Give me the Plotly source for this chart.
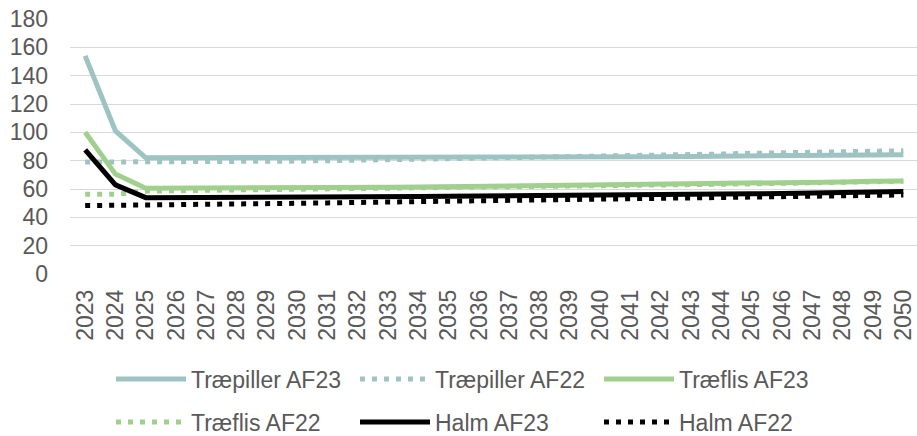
import plotly.graph_objects as go

years = [str(y) for y in range(2023, 2051)]

traepiller_af23 = [154, 101, 82, 82, 82, 82, 82, 82, 82, 82, 82, 82, 82.1, 82.2,
                   82.3, 82.4, 82.5, 82.6, 82.7, 82.8, 83.0, 83.1, 83.3, 83.4, 83.6, 83.8, 84.0, 84.2]
traepiller_af22 = [79.0, 79.0, 79.0, 79.1, 79.2, 79.3, 79.5, 79.7, 80.0, 80.3, 80.6, 80.9, 81.2, 81.5,
                   81.8, 82.1, 82.4, 82.8, 83.2, 83.7, 84.2, 84.7, 85.2, 85.6, 86.0, 86.4, 86.7, 87.0]
traeflis_af23 = [100, 70.5, 60.5, 60.5, 60.6, 60.7, 60.8, 60.9, 61.0, 61.1, 61.2, 61.4, 61.6, 61.8,
                 62.0, 62.2, 62.4, 62.6, 62.8, 63.0, 63.3, 63.6, 63.9, 64.2, 64.6, 65.0, 65.4, 65.7]
traeflis_af22 = [56.3, 56.3, 58.5, 59.0, 59.2, 59.4, 59.6, 59.8, 60.0, 60.2, 60.4, 60.6, 60.8, 61.0,
                 61.2, 61.4, 61.6, 61.9, 62.2, 62.5, 62.8, 63.2, 63.6, 64.0, 64.4, 64.8, 65.2, 65.5]
halm_af23 = [87.6, 62.9, 53.9, 53.9, 54.0, 54.1, 54.2, 54.3, 54.4, 54.5, 54.6, 54.7, 54.8, 54.9,
             55.0, 55.2, 55.4, 55.6, 55.8, 56.0, 56.2, 56.4, 56.6, 56.8, 57.1, 57.4, 57.8, 58.2]
halm_af22 = [48.3, 48.4, 48.6, 48.8, 49.0, 49.3, 49.6, 49.9, 50.2, 50.5, 50.8, 51.1, 51.4, 51.7,
             52.0, 52.3, 52.6, 52.9, 53.2, 53.5, 53.8, 54.1, 54.4, 54.7, 55.0, 55.3, 55.6, 55.8]

y_ticks = [0, 20, 40, 60, 80, 100, 120, 140, 160, 180]

TEAL = "#9DC3C2"
GREEN = "#A1D08E"
BLACK = "#000000"
DOT = "5px,7px"
FONT = "Liberation Sans, Arial, sans-serif"
FS = 23

series = [
    ("Træpiller AF23", traepiller_af23, TEAL, "solid", "legend"),
    ("Træpiller AF22", traepiller_af22, TEAL, DOT, "legend"),
    ("Træflis AF23", traeflis_af23, GREEN, "solid", "legend"),
    ("Træflis AF22", traeflis_af22, GREEN, DOT, "legend2"),
    ("Halm AF23", halm_af23, BLACK, "solid", "legend2"),
    ("Halm AF22", halm_af22, BLACK, DOT, "legend2"),
]

fig = go.Figure()
for name, vals, col, dash, leg in series:
    fig.add_trace(go.Scatter(
        x=years, y=vals, name=name, mode="lines",
        line=dict(color=col, width=5, dash=dash),
        legend=leg,
    ))

legend_common = dict(
    orientation="h", xref="container", yref="container",
    xanchor="left", yanchor="middle",
    font=dict(family=FONT, size=FS, color="#595959"),
    itemwidth=70, entrywidth=159, entrywidthmode="pixels",
    bgcolor="rgba(0,0,0,0)", traceorder="normal",
)

fig.update_layout(
    width=917, height=436,
    margin=dict(l=70, r=0, t=19, b=162, autoexpand=False),
    paper_bgcolor="white", plot_bgcolor="white",
    font=dict(family=FONT, size=FS, color="#595959"),
    legend=dict(x=111 / 917, y=1 - 379 / 436, **legend_common),
    legend2=dict(x=111 / 917, y=1 - 422 / 436, **legend_common),
    xaxis=dict(
        type="category", range=[-0.5, 27.45], tickangle=-90, automargin=False,
        showgrid=False, zeroline=False, showline=False, ticks="",
        tickfont=dict(family=FONT, size=FS, color="#595959"),
        ticklabelstandoff=10,
    ),
    yaxis=dict(
        range=[0, 180], tickvals=y_ticks, showgrid=True, automargin=False,
        gridcolor="#D9D9D9", gridwidth=1.3, zeroline=False, showline=False,
        ticks="", tickfont=dict(family=FONT, size=FS, color="#595959"),
        ticklabelstandoff=21,
    ),
)

fig.write_html(
    "out.html",
    config={"displayModeBar": False},
    post_script="document.body.style.margin='0';document.body.style.overflow='hidden';",
)
